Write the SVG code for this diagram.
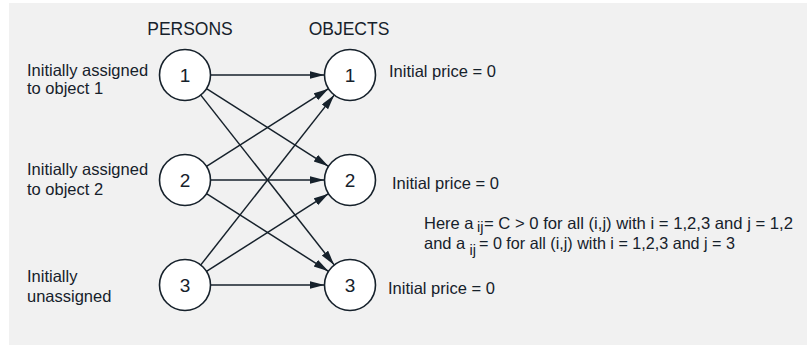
<svg xmlns="http://www.w3.org/2000/svg" width="807" height="345" viewBox="0 0 807 345">
  <style>
    text { font-family: "Liberation Sans", Arial, sans-serif; fill: #16212b; }
    .lbl { font-size: 16.5px; }
    .head { font-size: 17.5px; text-anchor: middle; }
    .num { font-size: 19px; text-anchor: middle; }
    .sub { font-size: 14.5px; }
    .node circle { fill: #ffffff; stroke: #16212b; stroke-width: 1.6; }
    .edge { stroke: #16212b; stroke-width: 1.5; fill: none; marker-end: url(#arrow); }
  </style>
  <defs>
    <marker id="arrow" markerUnits="userSpaceOnUse" markerWidth="16" markerHeight="10" refX="15" refY="4" orient="auto">
      <path d="M0,0 L15,4 L0,8 Z" fill="#16212b"/>
    </marker>
  </defs>

  <!-- background panel -->
  <rect x="9" y="3" width="798" height="342" fill="#f1f1f1"/>

  <!-- column headings -->
  <text class="head" x="190" y="35">PERSONS</text>
  <text class="head" x="349" y="35">OBJECTS</text>

  <!-- person annotations -->
  <text class="lbl" x="27" y="76">Initially assigned</text>
  <text class="lbl" x="27" y="93.5">to object 1</text>
  <text class="lbl" x="27" y="175">Initially assigned</text>
  <text class="lbl" x="27" y="195">to object 2</text>
  <text class="lbl" x="27" y="282">Initially</text>
  <text class="lbl" x="27" y="301.5">unassigned</text>

  <!-- object annotations -->
  <text class="lbl" x="389" y="77">Initial price = 0</text>
  <text class="lbl" x="392" y="188.5">Initial price = 0</text>
  <text class="lbl" x="388" y="293.5">Initial price = 0</text>

  <!-- benefit note -->
  <text class="lbl" x="424" y="229">Here a</text>
  <text class="sub" x="477" y="232">ij</text>
  <text class="lbl" x="484" y="229" textLength="309" lengthAdjust="spacingAndGlyphs">= C &gt; 0 for all (i,j) with i  = 1,2,3 and j = 1,2</text>
  <text class="lbl" x="424" y="248.5">and a</text>
  <text class="sub" x="469.5" y="255">ij</text>
  <text class="lbl" x="479" y="248.5" textLength="256" lengthAdjust="spacingAndGlyphs">= 0 for all (i,j) with i = 1,2,3 and j = 3</text>

  <!-- connectors -->
  <g id="connectors">
    <line class="edge" x1="210.5" y1="75" x2="324.5" y2="75"/>
    <line class="edge" x1="206.5" y1="88.7" x2="328.5" y2="166.3"/>
    <line class="edge" x1="200.8" y1="95.1" x2="334.2" y2="264.9"/>
    <line class="edge" x1="206.5" y1="166.3" x2="328.5" y2="88.7"/>
    <line class="edge" x1="210.5" y1="180" x2="324.5" y2="180"/>
    <line class="edge" x1="206.5" y1="193.7" x2="328.5" y2="271.3"/>
    <line class="edge" x1="200.8" y1="264.9" x2="334.2" y2="95.1"/>
    <line class="edge" x1="206.5" y1="271.3" x2="328.5" y2="193.7"/>
    <line class="edge" x1="210.5" y1="285" x2="324.5" y2="285"/>
  </g>

  <!-- persons -->
  <g id="person1" class="node"><circle cx="185" cy="75" r="25.5"/><text class="num" x="185" y="81.5">1</text></g>
  <g id="person2" class="node"><circle cx="185" cy="180" r="25.5"/><text class="num" x="185" y="186.5">2</text></g>
  <g id="person3" class="node"><circle cx="185" cy="285" r="25.5"/><text class="num" x="185" y="291.5">3</text></g>

  <!-- objects -->
  <g id="object1" class="node"><circle cx="350" cy="75" r="25.5"/><text class="num" x="350" y="81.5">1</text></g>
  <g id="object2" class="node"><circle cx="350" cy="180" r="25.5"/><text class="num" x="350" y="186.5">2</text></g>
  <g id="object3" class="node"><circle cx="350" cy="285" r="25.5"/><text class="num" x="350" y="291.5">3</text></g>
</svg>
